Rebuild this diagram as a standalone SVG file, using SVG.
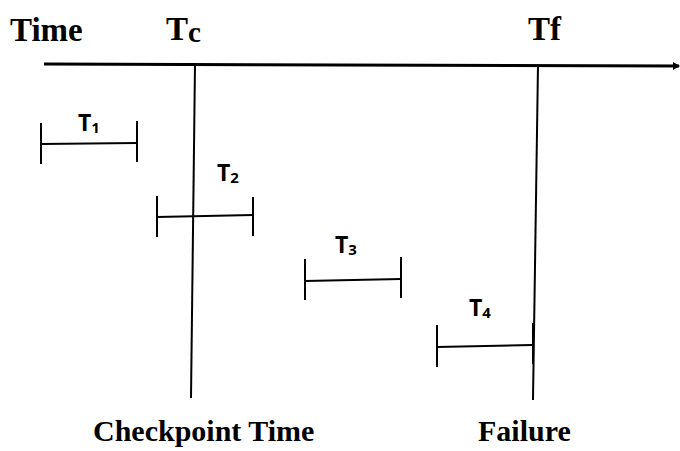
<svg xmlns="http://www.w3.org/2000/svg" width="680" height="451" viewBox="0 0 680 451">
<style>
.serif{font-family:"Liberation Serif","Times New Roman",serif;font-weight:bold;fill:#000;font-size:30px}
.top{font-size:33px}
.sans{font-family:"Open Sans","Liberation Sans",sans-serif;font-weight:bold;fill:#000;font-size:23px}
.sub{font-size:15px}
.ln{stroke:#000;stroke-width:2;fill:none}
</style>
<rect width="680" height="451" fill="#fff"/>
<defs>
<marker id="arr" markerWidth="7" markerHeight="8" refX="6" refY="4" orient="auto" markerUnits="userSpaceOnUse">
<path d="M0,0 L7,4 L0,8 Z" fill="#000"/>
</marker>
</defs>
<g id="labels-top">
<text class="serif top" x="10" y="41">Time</text>
<text class="serif top" x="166" y="40">T<tspan font-size="29" dy="2">c</tspan></text>
<text class="serif top" x="528" y="40">Tf</text>
</g>
<g id="connectors">
<line x1="44" y1="64" x2="679" y2="66" stroke="#000" stroke-width="3" marker-end="url(#arr)"/>
<line class="ln" x1="195" y1="64" x2="191" y2="398"/>
<line class="ln" x1="538" y1="65" x2="533" y2="400"/>
</g>
<g id="T1">
<line class="ln" x1="41" y1="123" x2="41" y2="164"/>
<line class="ln" x1="41" y1="144" x2="137" y2="143"/>
<line class="ln" x1="137" y1="121" x2="137" y2="162"/>
<text class="sans" x="78" y="131">T<tspan class="sub" dy="2">1</tspan></text>
</g>
<g id="T2">
<line class="ln" x1="157" y1="196" x2="157" y2="237"/>
<line class="ln" x1="157" y1="217" x2="253" y2="215"/>
<line class="ln" x1="253" y1="197" x2="253" y2="236"/>
<text class="sans" x="217" y="181">T<tspan class="sub" dy="2">2</tspan></text>
</g>
<g id="T3">
<line class="ln" x1="305" y1="259" x2="305" y2="300"/>
<line class="ln" x1="305" y1="281" x2="401" y2="279"/>
<line class="ln" x1="401" y1="257" x2="401" y2="298"/>
<text class="sans" x="335" y="253">T<tspan class="sub" dy="2">3</tspan></text>
</g>
<g id="T4">
<line class="ln" x1="437" y1="325" x2="437" y2="367"/>
<line class="ln" x1="437" y1="347" x2="532" y2="345"/>
<line class="ln" x1="533" y1="323" x2="533" y2="364"/>
<text class="sans" x="469" y="316">T<tspan class="sub" dy="2">4</tspan></text>
</g>
<g id="labels-bottom">
<text class="serif" x="93" y="441">Checkpoint Time</text>
<text class="serif" x="478" y="441">Failure</text>
</g>
</svg>
